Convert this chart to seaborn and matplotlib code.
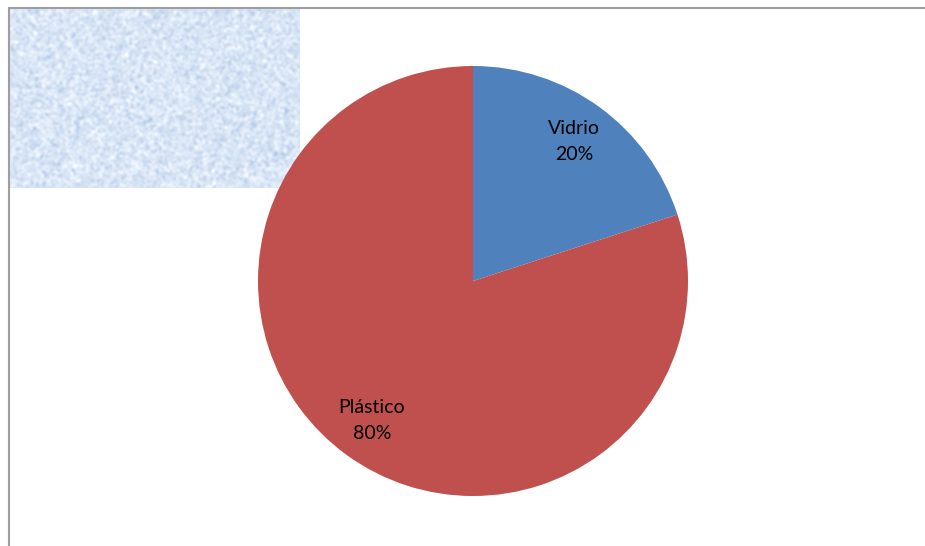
import numpy as np
import matplotlib
matplotlib.use("Agg")
import matplotlib.pyplot as plt
from matplotlib.lines import Line2D
import seaborn as sns

# Composition of collected containers
materials = ["Vidrio", "Plástico"]
shares = [20, 80]
slice_colors = ["#4F81BD", "#C0504D"]

sns.set_theme(style="white")
plt.rcParams["font.family"] = ["Lato", "DejaVu Sans"]

W, H, DPI = 925, 546, 100
fig = plt.figure(figsize=(W / DPI, H / DPI), dpi=DPI)
fig.patch.set_facecolor("white")

# Pie placed by pixel centre and radius
cx, cy, r = 473, 281, 215
ax = fig.add_axes([(cx - r) / W, (H - cy - r) / H, 2 * r / W, 2 * r / H])
palette = sns.color_palette(slice_colors)
labels = [f"{m}\n{s}%" for m, s in zip(materials, shares)]
wedges, texts = ax.pie(
    shares,
    colors=palette,
    startangle=90,
    counterclock=False,
    labels=labels,
    labeldistance=0.8,
    textprops=dict(fontsize=14, color="black", ha="center", va="center",
                   linespacing=1.65),
    wedgeprops=dict(linewidth=0),
)
ax.set_xlim(-1, 1)
ax.set_ylim(-1, 1)
ax.set_aspect("equal")
ax.axis("off")

# Light textured backdrop in the upper-left corner
x0, y0, x1, y1 = 10, 9, 300, 188
tex_ax = fig.add_axes([x0 / W, (H - y1) / H, (x1 - x0) / W, (y1 - y0) / H], zorder=0)
rng = np.random.default_rng(7)
noise = rng.normal(0, 1, (y1 - y0, x1 - x0))
k = np.ones(3) / 3
for _ in range(2):
    noise = np.apply_along_axis(lambda v: np.convolve(v, k, mode="same"), 0, noise)
    noise = np.apply_along_axis(lambda v: np.convolve(v, k, mode="same"), 1, noise)
noise = noise / noise.std()
base = np.array([217, 230, 246]) / 255.0
amp = np.array([9, 7, 4]) / 255.0
img = np.clip(base[None, None, :] + noise[..., None] * amp[None, None, :], 0, 1)
tex_ax.imshow(img, aspect="auto", interpolation="bilinear")
tex_ax.axis("off")
ax.set_zorder(1)

# Frame lines along the top and left edges
lc = "#9E9E9E"
fig.add_artist(Line2D([8.5 / W, 8.5 / W], [0, 1 - 7.5 / H], transform=fig.transFigure,
                      color=lc, linewidth=1.5))
fig.add_artist(Line2D([8.5 / W, 1], [1 - 7.5 / H, 1 - 7.5 / H], transform=fig.transFigure,
                      color=lc, linewidth=1.5))

fig.savefig("out.png", dpi=DPI, facecolor="white")
